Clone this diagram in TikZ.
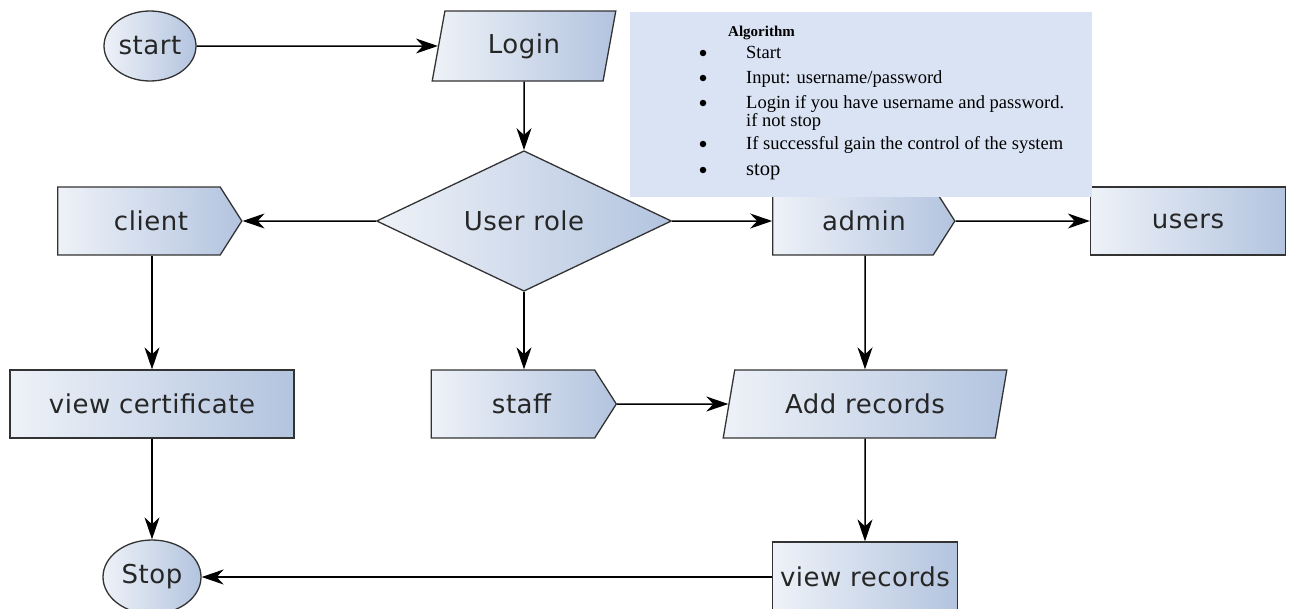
\documentclass[tikz,border=0pt]{standalone}
\usepackage{fontspec}
\setmainfont{DejaVu Sans}
\newfontfamily\nodefont[LetterSpace=2]{DejaVu Sans}
\newfontfamily\algfont{Liberation Serif}
\usetikzlibrary{shapes.geometric,shapes.symbols,arrows.meta}
\definecolor{edgec}{HTML}{333333}
\definecolor{lightc}{HTML}{EEF2F8}
\definecolor{darkc}{HTML}{B3C4DF}
\definecolor{boxc}{HTML}{DAE3F3}
\begin{document}
\begin{tikzpicture}[x=1pt,y=-1pt,
 shp/.style={draw=edgec,line width=1.3pt,left color=lightc,right color=darkc,
   font=\nodefont\fontsize{26}{28}\selectfont,inner sep=0pt,text=black!85},
 term/.style={shp,ellipse,minimum width=92pt,minimum height=70pt},
 io/.style={shp,trapezium,trapezium stretches=true,minimum height=68pt},
 proc/.style={shp,rectangle,minimum height=68pt},
 sig/.style={shp,signal,signal to=east,signal pointer angle=115,minimum height=68pt},
 dec/.style={shp,diamond,minimum width=295pt,minimum height=130pt},
 arr/.style={draw=black,line width=1.5pt,-{Stealth[length=22pt,width=15pt,inset=7pt]}},
 algtxt/.style={anchor=base west,inner sep=0pt,font=\algfont\fontsize{18.5}{20}\selectfont},
 bul/.style={circle,fill=black,inner sep=0pt,minimum size=6.5pt}
]
\useasboundingbox (0,0) rectangle (1300,608);
\node[term] (start) at (150,46) {start};
\node[io,minimum width=184pt,minimum height=70pt,trapezium left angle=77,trapezium right angle=103] (login) at (524,46) {Login};
\node[dec] (role) at (524,221) {User role};
\node[sig,minimum width=184pt] (client) at (139,221) {\hspace*{24pt}client};
\node[sig,minimum width=182pt] (admin) at (853,221) {\hspace*{22pt}admin};
\node[proc,minimum width=195pt] (users) at (1188,221) {users};
\node[proc,minimum width=284pt] (viewcert) at (152,404) {view certificate};
\node[sig,minimum width=185pt] (staff) at (513,404) {\hspace*{17pt}staff};
\node[io,minimum width=284pt,trapezium left angle=70.6,trapezium right angle=109.4] (addrec) at (865,404) {Add records};
\node[proc,minimum width=185pt,minimum height=70pt] (viewrec) at (865,577) {view records};
\node[term,minimum width=98pt,minimum height=74pt] (stop) at (152,577) {Stop};

\draw[arr] (start) -- (login);
\draw[arr] (login) -- (role);
\draw[arr] (role) -- (client);
\draw[arr] (role) -- (admin);
\draw[arr] (admin) -- (users);
\draw[arr] (client.south -| viewcert) -- (viewcert);
\draw[arr] (viewcert) -- (stop);
\draw[arr] (role) -- (role |- staff.north);
\draw[arr] (staff) -- (addrec);
\draw[arr] (admin.south -| addrec) -- (addrec);
\draw[arr] (addrec) -- (viewrec);
\draw[arr] (viewrec) -- (stop);

\node[fill=boxc,minimum width=462pt,minimum height=185pt,anchor=north west,inner sep=0pt] (algbox) at (630,12) {};
\node[anchor=base west,inner sep=0pt,font=\algfont\bfseries\fontsize{15}{17}\selectfont] (algtitle) at (728,36) {Algorithm};
\node[bul] (b1) at (703,53) {};
\node[algtxt] (t1) at (746,58) {Start};
\node[bul] (b2) at (703,78) {};
\node[algtxt] (t2) at (746,83) {Input: username/password};
\node[bul] (b3) at (703,103) {};
\node[algtxt] (t3) at (746,108) {Login if you have username and password.};
\node[algtxt] (t3b) at (746,126) {if not stop};
\node[bul] (b4) at (703,144) {};
\node[algtxt] (t4) at (746,149) {If successful gain the control of the system};
\node[bul] (b5) at (703,170) {};
\node[algtxt,font=\algfont\fontsize{20.5}{22}\selectfont] (t5) at (746,175) {stop};
\end{tikzpicture}
\end{document}
